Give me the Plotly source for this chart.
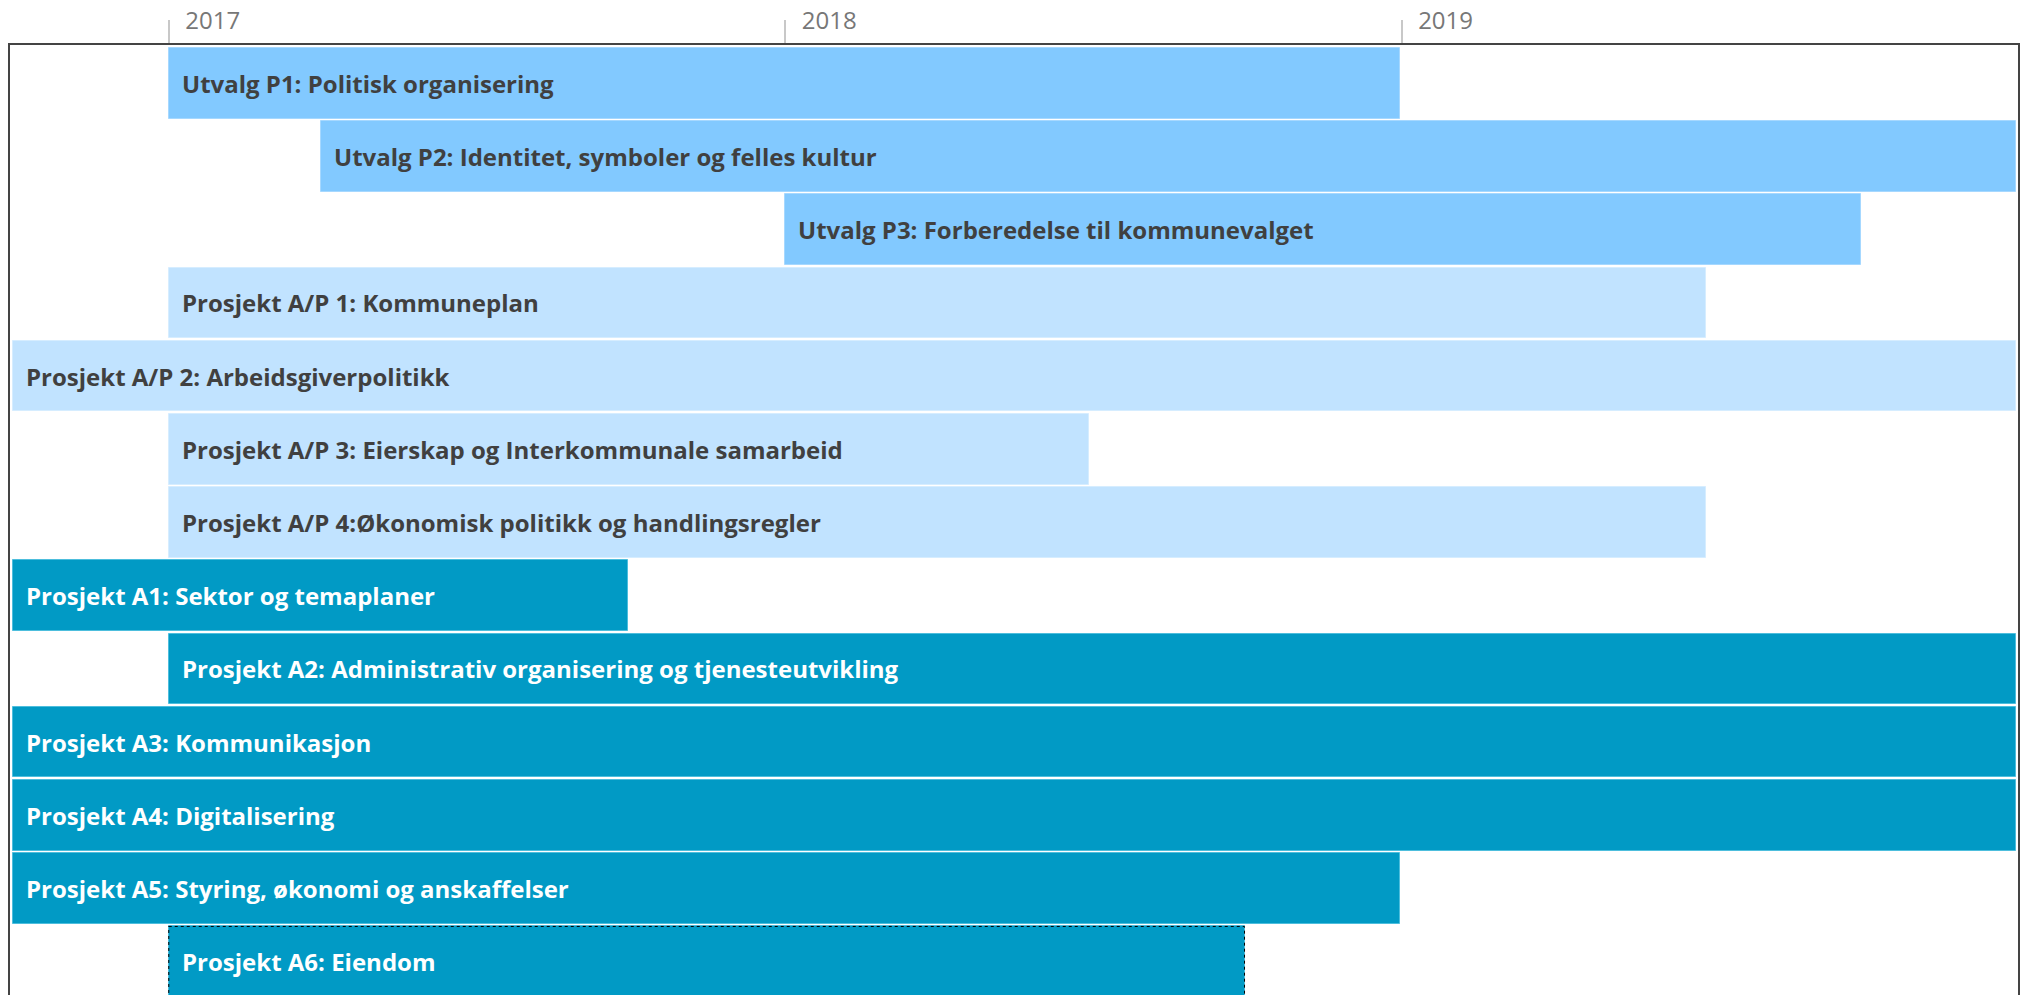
import plotly.graph_objects as go
from datetime import datetime

tasks = [
    "Utvalg P1: Politisk organisering",
    "Utvalg P2: Identitet, symboler og felles kultur",
    "Utvalg P3: Forberedelse til kommunevalget",
    "Prosjekt A/P 1: Kommuneplan",
    "Prosjekt A/P 2: Arbeidsgiverpolitikk",
    "Prosjekt A/P 3: Eierskap og Interkommunale samarbeid",
    "Prosjekt A/P 4:Økonomisk politikk og handlingsregler",
    "Prosjekt A1: Sektor og temaplaner",
    "Prosjekt A2: Administrativ organisering og tjenesteutvikling",
    "Prosjekt A3: Kommunikasjon",
    "Prosjekt A4: Digitalisering",
    "Prosjekt A5: Styring, økonomi og anskaffelser",
    "Prosjekt A6: Eiendom",
]
starts = [
    "2017-01-01", "2017-04-01", "2018-01-01", "2017-01-01", "2016-10-01",
    "2017-01-01", "2017-01-01", "2016-10-01", "2017-01-01", "2016-10-01",
    "2016-10-01", "2016-10-01", "2017-01-01",
]
ends = [
    "2018-12-31", "2019-12-31", "2019-09-30", "2019-06-30", "2019-12-31",
    "2018-06-30", "2019-06-30", "2017-09-30", "2019-12-31", "2019-12-31",
    "2019-12-31", "2018-12-31", "2018-09-30",
]
groups = ["Utvalg"] * 3 + ["AP"] * 4 + ["A"] * 6
selected = "Prosjekt A6: Eiendom"
x_range = ["2016-09-29", "2020-01-01"]
tick_vals = ["2017-01-01", "2018-01-01", "2019-01-01"]
tick_text = ["2017", "2018", "2019"]

fill = {"Utvalg": "#82C9FF", "AP": "#C1E3FF", "A": "#019AC5"}
edge = {"Utvalg": "#A6D8FF", "AP": "#D6EDFF", "A": "#4DBEDD"}
txtcol = {"Utvalg": "#404040", "AP": "#404040", "A": "#FFFFFF"}

fmt = "%Y-%m-%d"
durations = [
    (datetime.strptime(e, fmt) - datetime.strptime(s, fmt)).total_seconds() * 1000
    for s, e in zip(starts, ends)
]

fig = go.Figure()
fig.add_trace(go.Bar(
    y=tasks,
    x=durations,
    base=starts,
    orientation="h",
    width=0.963,
    marker=dict(color=[fill[g] for g in groups],
                line=dict(color=[edge[g] for g in groups], width=1)),
    hoverinfo="skip",
    showlegend=False,
))

for t, s, g in zip(tasks, starts, groups):
    fig.add_annotation(
        x=s, y=t, xref="x", yref="y", text=t, showarrow=False,
        xanchor="left", yanchor="middle", xshift=11,
        font=dict(family="Open Sans", size=24, color=txtcol[g], weight="bold"),
    )

# dotted selection outline on the selected bar (derived from its data)
i = tasks.index(selected)
fig.add_shape(
    type="rect", xref="x", yref="y",
    x0=starts[i], x1=ends[i], y0=i - 0.4815, y1=i + 0.4815,
    line=dict(color="#000000", width=1, dash="dot"), fillcolor="rgba(0,0,0,0)",
)

fig.update_layout(
    width=2024, height=995,
    margin=dict(l=10, r=6, t=45, b=0, pad=0, autoexpand=False),
    paper_bgcolor="white", plot_bgcolor="white",
    bargap=0,
)
fig.update_xaxes(
    type="date", range=x_range, side="top", automargin=False,
    tickvals=tick_vals, ticktext=tick_text,
    ticks="outside", ticklen=23, tickwidth=1.5, tickcolor="#C8C8C8",
    ticklabelshift=44, ticklabelstandoff=-19,
    tickfont=dict(family="Open Sans", size=24, color="#777777"),
    showgrid=False, zeroline=False,
    showline=True, linecolor="#444444", linewidth=2, mirror=False,
)
fig.update_yaxes(
    type="category", categoryorder="array", categoryarray=tasks,
    range=[12.455, -0.523], automargin=False,
    showticklabels=False, ticks="", showgrid=False, zeroline=False,
    showline=True, linecolor="#444444", linewidth=2, mirror=True,
)

fig.write_html(
    "out.html",
    config={"displayModeBar": False},
    post_script="document.body.style.margin='0';document.body.style.overflow='hidden';",
)
